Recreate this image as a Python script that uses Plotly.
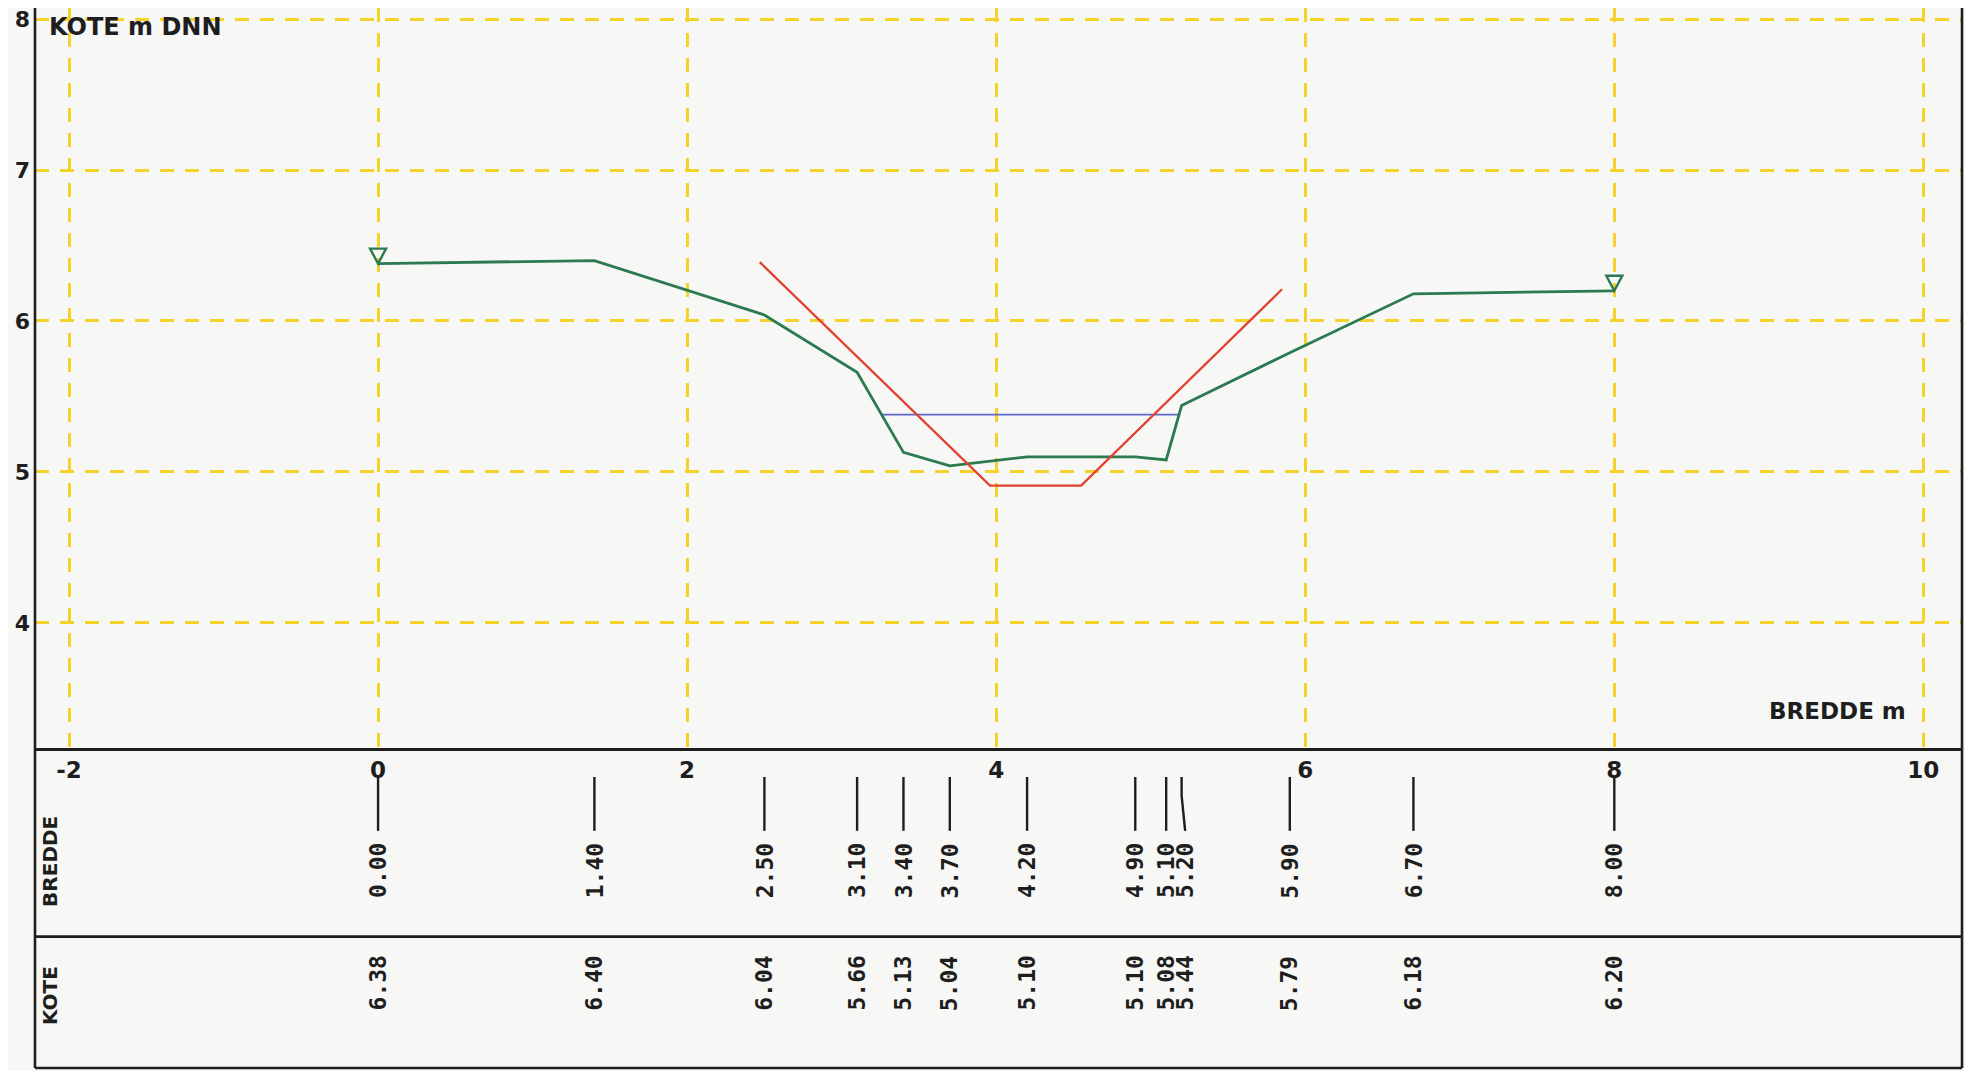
import plotly.graph_objects as go

# ---------------- data ----------------
bredde = [0.00, 1.40, 2.50, 3.10, 3.40, 3.70, 4.20, 4.90, 5.10, 5.20, 5.90, 6.70, 8.00]
kote = [6.38, 6.40, 6.04, 5.66, 5.13, 5.04, 5.10, 5.10, 5.08, 5.44, 5.79, 6.18, 6.20]
design_x = [2.47, 3.96, 4.55, 5.85]
design_y = [6.39, 4.91, 4.91, 6.21]
water_x = [3.26, 5.18]
water_y = [5.38, 5.38]
x_ticks = [-2, 0, 2, 4, 6, 8, 10]
x_ticklabels = ["-2", "0", "2", "4", "6", "8", "10"]
y_ticks = [4, 5, 6, 7, 8]
y_ticklabels = ["4", "5", "6", "7", "8"]

# ---------------- geometry ----------------
OFF = 8                      # page body margin of the html page
W, H = 1973 - OFF, 1071 - OFF
ML, MR, MT, MB = 35 - OFF, 11, 0, 3
PW = W - ML - MR
PH = H - MT - MB
XR = [-2.22, 10.25]
YR = [3.175, 8.073]
main_bottom = (PH - (747.5 - OFF)) / PH
px_per_unit = PW / (XR[1] - XR[0])


def px_x(p):  # page pixel -> paper x
    return (p - OFF - ML) / PW


def px_y(p):  # page pixel -> paper y
    return (PH - (p - OFF - MT)) / PH


GREEN = "#2b7a50"
RED = "#e2432f"
BLUE = "#6068c8"
YELLOW = "#f4d229"
BLACK = "#1e1e1e"
BG = "#f7f7f5"
MONO = "DejaVu Sans Mono"
SANS = "DejaVu Sans"

fig = go.Figure()

fig.add_trace(go.Scatter(x=water_x, y=water_y, mode="lines",
                         line=dict(color=BLUE, width=1.6), hoverinfo="skip"))
fig.add_trace(go.Scatter(x=bredde, y=kote, mode="lines",
                         line=dict(color=GREEN, width=2.8), hoverinfo="skip"))
fig.add_trace(go.Scatter(x=design_x, y=design_y, mode="lines",
                         line=dict(color=RED, width=2.3), hoverinfo="skip"))

# label positions in the table (push apart crowded ones)
min_sep = 19.0
label_px = []
for b in bredde:
    p = b * px_per_unit
    if label_px and p - label_px[-1] < min_sep:
        p = label_px[-1] + min_sep
    label_px.append(p)
label_x = [p / px_per_unit for p in label_px]

# leader lines in BREDDE row
lx, ly = [], []
for b, l in zip(bredde, label_x):
    lx += [b, b, l, None]
    ly += [0.908, 0.85, 0.74, None]
fig.add_trace(go.Scatter(x=lx, y=ly, xaxis="x2", yaxis="y2", mode="lines",
                         line=dict(color=BLACK, width=2.4), hoverinfo="skip"))

annotations = []
for b, k, l in zip(bredde, kote, label_x):
    annotations.append(dict(x=l, y=0.615, xref="x2", yref="y2", text=f"{b:.2f}",
                            textangle=-90, showarrow=False, xanchor="center", yanchor="middle",
                            font=dict(family=MONO, size=23, color=BLACK, weight="bold")))
    annotations.append(dict(x=l, y=0.264, xref="x2", yref="y2", text=f"{k:.2f}",
                            textangle=-90, showarrow=False, xanchor="center", yanchor="middle",
                            font=dict(family=MONO, size=23, color=BLACK, weight="bold")))

annotations += [
    dict(x=px_x(47), y=px_y(27), xref="paper", yref="paper", text="KOTE m DNN",
         showarrow=False, xanchor="left", yanchor="middle",
         font=dict(family=SANS, size=24, color=BLACK, weight="bold")),
    dict(x=px_x(1908), y=px_y(711), xref="paper", yref="paper", text="BREDDE m",
         showarrow=False, xanchor="right", yanchor="middle",
         font=dict(family=SANS, size=23, color=BLACK, weight="bold")),
    dict(x=px_x(50), y=0.643, xref="paper", yref="y2", text="BREDDE",
         textangle=-90, showarrow=False, xanchor="center", yanchor="middle",
         font=dict(family=SANS, size=20, color=BLACK, weight="bold")),
    dict(x=px_x(50), y=0.2246, xref="paper", yref="y2", text="KOTE",
         textangle=-90, showarrow=False, xanchor="center", yanchor="middle",
         font=dict(family=SANS, size=20, color=BLACK, weight="bold")),
]

shapes = [
    dict(type="line", xref="paper", yref="paper", x0=0, x1=0, y0=0, y1=1,
         line=dict(color=BLACK, width=2.6)),
    dict(type="line", xref="paper", yref="paper", x0=1, x1=1, y0=0, y1=1,
         line=dict(color=BLACK, width=2.6)),
    dict(type="line", xref="paper", yref="paper", x0=0, x1=1, y0=0, y1=0,
         line=dict(color=BLACK, width=2.6)),
    dict(type="line", xref="paper", yref="y2", x0=0, x1=1, y0=0.41, y1=0.41,
         line=dict(color=BLACK, width=2.6)),
]
# open triangle markers, apex on first and last survey point
for i in (0, len(bredde) - 1):
    shapes.append(dict(type="path", xref="x", yref="y", xsizemode="pixel", ysizemode="pixel",
                       xanchor=bredde[i], yanchor=kote[i],
                       path="M-8,15 L8,15 L0,0 Z",
                       line=dict(color=GREEN, width=2.4), fillcolor="rgba(0,0,0,0)"))

fig.update_layout(
    width=W, height=H,
    margin=dict(l=ML, r=MR, t=MT, b=MB, autoexpand=False),
    paper_bgcolor=BG, plot_bgcolor=BG,
    showlegend=False,
    annotations=annotations,
    shapes=shapes,
    xaxis=dict(range=XR, tickvals=x_ticks, ticktext=x_ticklabels, showgrid=True,
               gridcolor=YELLOW, gridwidth=2.5, griddash="14px,11px", zeroline=False,
               showline=True, linecolor=BLACK, linewidth=2.6, ticks="", ticklen=0,
               anchor="y", ticklabeloverflow="allow",
               tickfont=dict(family=SANS, size=23, color=BLACK, weight="bold")),
    yaxis=dict(range=YR, domain=[main_bottom, 1], tickvals=y_ticks, ticktext=y_ticklabels,
               showgrid=True, gridcolor=YELLOW, gridwidth=2.5, griddash="14px,11px",
               zeroline=False, showline=False, ticks="", ticklen=0, anchor="x",
               ticklabelstandoff=4, ticklabeloverflow="allow",
               tickfont=dict(family=SANS, size=22, color=BLACK, weight="bold")),
    xaxis2=dict(range=XR, matches="x", visible=False, anchor="y2", showgrid=False,
                zeroline=False),
    yaxis2=dict(range=[0, 1], domain=[0, main_bottom], visible=False, anchor="x2",
                showgrid=False, zeroline=False),
)

fig.write_html("out.html", config={"displayModeBar": False})
